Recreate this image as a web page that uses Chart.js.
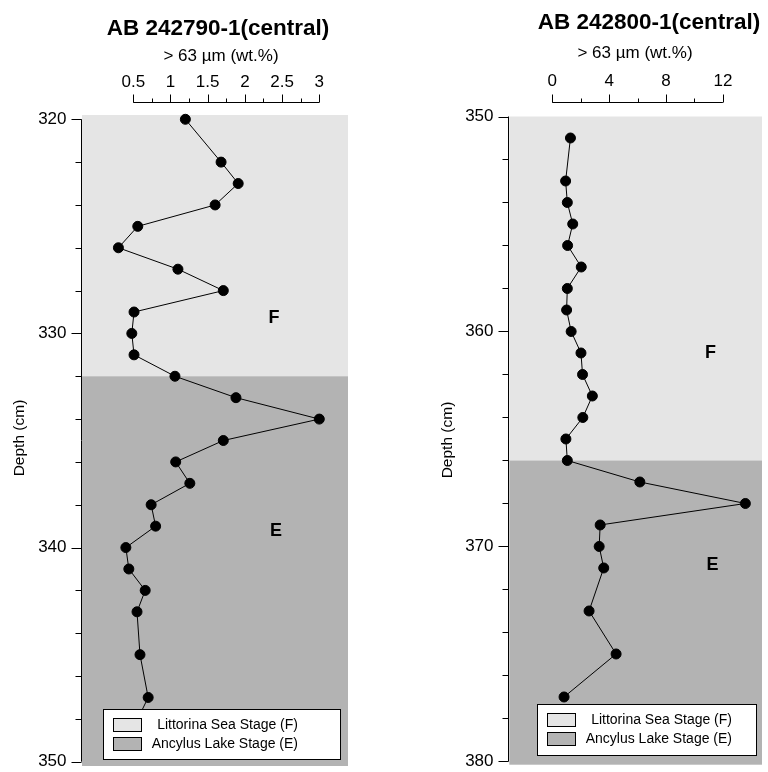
<!DOCTYPE html>
<html>
<head>
<meta charset="utf-8">
<script src="https://cdn.jsdelivr.net/npm/chart.js@4.4.1/dist/chart.umd.min.js"></script>
<style>
  html, body { margin: 0; padding: 0; background: #fff; }
  #wrap { position: relative; width: 768px; height: 772px; overflow: hidden; }
  #wrap canvas { position: absolute; top: 0; }
</style>
</head>
<body>
<div id="wrap">
  <canvas id="left" width="384" height="772" style="left:0"></canvas>
  <canvas id="right" width="384" height="772" style="left:384px"></canvas>
</div>
<script>
// AB 242790-1 : sand fraction > 63 µm vs depth
const leftDepth = [320, 322, 323, 324, 325, 326, 327, 328, 329, 330, 331, 332, 333, 334, 335,
                   336, 337, 338, 339, 340, 341, 342, 343, 345, 347, 349];
const leftSand = [1.2, 1.68, 1.91, 1.6, 0.56, 0.3, 1.1, 1.71, 0.51, 0.48, 0.51, 1.06, 1.88, 3.0, 1.71,
                  1.07, 1.26, 0.74, 0.8, 0.4, 0.44, 0.66, 0.55, 0.59, 0.7, 0.42];
const leftStageBreak = 332;
const leftXTicks = [0.5, 1, 1.5, 2, 2.5, 3];
const leftYTicks = [320, 330, 340, 350];

// AB 242800-1
const rightDepth = [351, 353, 354, 355, 356, 357, 358, 359, 360, 361, 362, 363, 364, 365, 366,
                    367, 368, 369, 370, 371, 373, 375, 377];
const rightSand = [1.28, 0.94, 1.06, 1.44, 1.08, 2.04, 1.06, 1.01, 1.33, 2.02, 2.13, 2.82, 2.15, 0.96, 1.06,
                   6.16, 13.58, 3.37, 3.3, 3.62, 2.59, 4.49, 0.83];
const rightStageBreak = 366;
const rightXTicks = [0, 4, 8, 12];
const rightYTicks = [350, 360, 370, 380];

const stageNames = ["Littorina Sea Stage (F)", "Ancylus Lake Stage (E)"];
const stageLetters = ["F", "E"];
const stageColors = ["#e5e5e5", "#b3b3b3"];

const FONT = '"Liberation Sans", Arial, sans-serif';

const decor = {
  id: "decor",
  beforeDatasetsDraw(chart, args, o) {
    const { ctx, chartArea: a, scales: { x, y } } = chart;
    const yb = y.getPixelForValue(o.stageBreak);
    ctx.save();
    ctx.fillStyle = stageColors[0];
    ctx.fillRect(a.left, a.top, a.right - a.left, yb - a.top);
    ctx.fillStyle = stageColors[1];
    ctx.fillRect(a.left, yb, a.right - a.left, a.bottom - yb);

    // stage letters
    ctx.fillStyle = "#000";
    ctx.font = "bold 18px " + FONT;
    ctx.textAlign = "center";
    ctx.textBaseline = "middle";
    o.letterPos.forEach((p, i) => ctx.fillText(stageLetters[i], p[0], p[1]));

    ctx.strokeStyle = "#000";
    ctx.lineWidth = 1;

    // depth axis (left)
    const ax = Math.round(a.left) - 0.5;
    const y0 = o.yTicks[0], y1 = o.yTicks[o.yTicks.length - 1];
    ctx.beginPath();
    ctx.moveTo(ax, y.getPixelForValue(y0));
    ctx.lineTo(ax, y.getPixelForValue(y1));
    for (let d = y0; d <= y1; d += 2) {
      const py = Math.round(y.getPixelForValue(d)) + 0.5;
      const len = o.yTicks.includes(d) ? 10 : 6;
      ctx.moveTo(ax, py);
      ctx.lineTo(ax - len, py);
    }
    ctx.stroke();
    ctx.font = "17px " + FONT;
    ctx.textAlign = "right";
    o.yTicks.forEach((d) => ctx.fillText(String(d), ax - 15, y.getPixelForValue(d)));

    ctx.save();
    ctx.translate(o.yTitlePos[0], o.yTitlePos[1]);
    ctx.rotate(-Math.PI / 2);
    ctx.textAlign = "center";
    ctx.font = "15.5px " + FONT;
    ctx.fillText("Depth (cm)", 0, 0);
    ctx.restore();

    // sand axis (top)
    const ty = o.xAxisY + 0.5;
    const x0 = o.xTicks[0], x1 = o.xTicks[o.xTicks.length - 1];
    ctx.beginPath();
    ctx.moveTo(x.getPixelForValue(x0), ty);
    ctx.lineTo(x.getPixelForValue(x1), ty);
    const nMinor = Math.round((x1 - x0) / o.xMinor);
    for (let i = 0; i <= nMinor; i++) {
      const v = x0 + i * o.xMinor;
      const px = Math.round(x.getPixelForValue(v)) + 0.5;
      const len = i % 2 === 0 ? 8 : 4;
      ctx.moveTo(px, ty);
      ctx.lineTo(px, ty - len);
    }
    ctx.stroke();
    ctx.textAlign = "center";
    ctx.textBaseline = "alphabetic";
    ctx.font = "17px " + FONT;
    o.xTicks.forEach((v) => ctx.fillText(String(v), x.getPixelForValue(v), o.xLabelY));
    ctx.fillText("> 63 µm (wt.%)", o.subPos[0], o.subPos[1]);
    ctx.font = "bold 22.5px " + FONT;
    ctx.fillText(o.title, o.titlePos[0], o.titlePos[1]);
    ctx.restore();
  },
  afterDatasetsDraw(chart, args, o) {
    const { ctx } = chart;
    const [lx, ly, lw, lh] = o.legendBox;
    ctx.save();
    ctx.fillStyle = "#fff";
    ctx.strokeStyle = "#000";
    ctx.lineWidth = 1;
    ctx.fillRect(lx, ly, lw, lh);
    ctx.strokeRect(lx + 0.5, ly + 0.5, lw - 1, lh - 1);
    ctx.font = "14px " + FONT;
    ctx.textBaseline = "middle";
    ctx.textAlign = "right";
    stageNames.forEach((name, i) => {
      const sy = ly + 9 + i * 19;
      ctx.fillStyle = stageColors[i];
      ctx.fillRect(lx + 10, sy, 29, 14);
      ctx.strokeRect(lx + 10.5, sy + 0.5, 28, 13);
      ctx.fillStyle = "#000";
      ctx.fillText(name, lx + 195, sy + 7.5);
    });
    ctx.restore();
  }
};

function makePanel(id, depth, sand, p) {
  return new Chart(document.getElementById(id), {
    type: "scatter",
    data: {
      datasets: [{
        data: depth.map((d, i) => ({ x: sand[i], y: d })),
        showLine: true,
        borderColor: "#000",
        borderWidth: 1,
        pointRadius: 5,
        pointBorderWidth: 1,
        pointBackgroundColor: "#000",
        pointBorderColor: "#000",
        clip: false
      }]
    },
    options: {
      responsive: false,
      animation: false,
      devicePixelRatio: 1,
      layout: { padding: p.padding },
      plugins: {
        legend: { display: false },
        tooltip: { enabled: false },
        decor: p
      },
      scales: {
        x: { type: "linear", display: false, min: p.xMin, max: p.xMax },
        y: { type: "linear", display: false, reverse: true, min: p.yMin, max: p.yMax }
      }
    },
    plugins: [decor]
  });
}

makePanel("left", leftDepth, leftSand, {
  title: "AB 242790-1(central)",
  stageBreak: leftStageBreak,
  xTicks: leftXTicks, xMinor: 0.25,
  yTicks: leftYTicks,
  xMin: -0.1895, xMax: 3.386,
  yMin: 319.8, yMax: 350.2,
  padding: { left: 82, right: 36, top: 115, bottom: 3.5 },
  xAxisY: 102, xLabelY: 87,
  subPos: [221, 61], titlePos: [218, 35],
  yTitlePos: [20, 438],
  letterPos: [[274, 318], [276, 531]],
  legendBox: [103, 709, 238, 51]
});

makePanel("right", rightDepth, rightSand, {
  title: "AB 242800-1(central)",
  stageBreak: rightStageBreak,
  xTicks: rightXTicks, xMinor: 2,
  yTicks: rightYTicks,
  xMin: -3.02, xMax: 14.75,
  yMin: 350, yMax: 380.15,
  padding: { left: 125.3, right: 0, top: 116.5, bottom: 7.3 },
  xAxisY: 102, xLabelY: 86,
  subPos: [251, 58], titlePos: [265, 29],
  yTitlePos: [64, 440],
  letterPos: [[326.5, 353], [328.5, 565.5]],
  legendBox: [153, 704, 220, 52]
});
</script>
</body>
</html>
